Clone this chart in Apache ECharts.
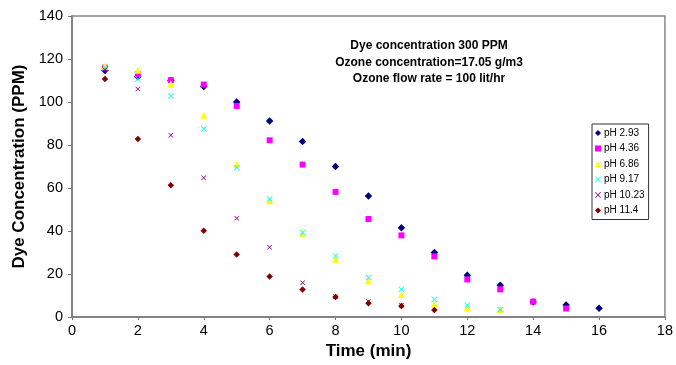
<!DOCTYPE html>
<html>
<head>
<meta charset="utf-8">
<script src="https://cdn.jsdelivr.net/npm/echarts@6/dist/echarts.min.js"></script>
<style>html,body{margin:0;padding:0;background:#fff}#c{width:676px;height:365px}</style>
</head>
<body>
<div id="c"></div>
<script>
const time = [1, 2, 3, 4, 5, 6, 7, 8, 9, 10, 11, 12, 13, 14, 15, 16];
const seriesNames = ['pH 2.93', 'pH 4.36', 'pH 6.86', 'pH 9.17', 'pH 10.23', 'pH 11.4'];
const ph293 = [114.7, 111.8, 110, 107.2, 100, 91.2, 81.6, 70, 56.3, 41.6, 30, 19.5, 14.8, 7, 5.6, 4.1];
const ph436 = [116, 112.9, 110.2, 108.1, 98.2, 82.2, 70.9, 58.2, 45.6, 38, 28.2, 17.5, 12.9, 7.2, 4];
const ph686 = [116.8, 114.8, 108.4, 93.8, 71, 54.1, 39, 26.9, 16.9, 10.5, 6.1, 4.4, 3.5];
const ph917 = [116, 110.7, 102.8, 87.5, 69.5, 54.9, 39.3, 28.4, 18.4, 12.9, 8.2, 5.5, 3.5];
const ph1023 = [115, 106.1, 84.6, 64.8, 46, 32.5, 16, 9.5, 7.3, 5.5];
const ph114 = [110.7, 82.8, 61.3, 40.1, 29.1, 18.9, 12.8, 9.3, 6.4, 5.2, 3.3];
const xTicks = [0, 2, 4, 6, 8, 10, 12, 14, 16, 18];
const yTicks = [0, 20, 40, 60, 80, 100, 120, 140];
const annotation = ['Dye concentration 300 PPM', 'Ozone concentration=17.05 g/m3', 'Ozone flow rate = 100 lit/hr'];

const allValues = [ph293, ph436, ph686, ph917, ph1023, ph114];
const colors = ['#000080', '#ff00ff', '#ffff00', '#00ffff', '#800080', '#800000'];
const X = 'path://M0,1L1,0L5,4L9,0L10,1L6,5L10,9L9,10L5,6L1,10L0,9L4,5Z';
const symbols = ['diamond', 'rect', 'triangle', X, X, 'diamond'];
const sizes = [7.5, 6, 7, 6, 5, 6.5];

const font = 'Liberation Sans, Arial, sans-serif';
const chart = echarts.init(document.getElementById('c'), null, {renderer: 'canvas'});
chart.setOption({
  animation: false,
  backgroundColor: '#fff',
  grid: {left: 72, right: 4, top: 16, bottom: 43, show: true, borderColor: '#888', borderWidth: 1.5},
  xAxis: {
    type: 'value', min: xTicks[0], max: xTicks[xTicks.length - 1], interval: 2,
    name: 'Time (min)', nameLocation: 'middle', nameGap: 25,
    nameTextStyle: {fontFamily: font, fontSize: 17, fontWeight: 'bold', color: '#000'},
    axisLine: {lineStyle: {color: '#777', width: 1.5}},
    axisTick: {length: 3, lineStyle: {color: '#777'}},
    axisLabel: {fontFamily: font, fontSize: 14.5, color: '#000', margin: 6},
    splitLine: {show: false}
  },
  yAxis: {
    type: 'value', min: yTicks[0], max: yTicks[yTicks.length - 1], interval: 20,
    name: 'Dye Concentration (PPM)', nameLocation: 'middle', nameGap: 44,
    nameTextStyle: {fontFamily: font, fontSize: 17, fontWeight: 'bold', color: '#000'},
    axisLine: {show: true, lineStyle: {color: '#777', width: 1.5}},
    axisTick: {show: true, length: 4, lineStyle: {color: '#777'}},
    axisLabel: {fontFamily: font, fontSize: 14.5, color: '#000', margin: 9},
    splitLine: {show: false}
  },
  legend: {
    orient: 'vertical', left: 592, top: 124,
    data: seriesNames,
    itemWidth: 6, itemHeight: 6, itemGap: 3.5,
    padding: [3, 4, 3, 3],
    borderColor: '#333', borderWidth: 1,
    textStyle: {fontFamily: font, fontSize: 10, color: '#000', lineHeight: 12, padding: [0, 0, 0, -2]}
  },
  graphic: annotation.map((t, i) => ({
    type: 'text',
    style: {text: t, x: 429, y: 46 + i * 16.5, textAlign: 'center', textVerticalAlign: 'middle',
      font: 'bold 12px ' + font, fill: '#000'}
  })),
  series: seriesNames.map((n, k) => ({
    name: n, type: 'scatter',
    symbol: symbols[k], symbolSize: sizes[k],
    itemStyle: {color: colors[k], opacity: 1},
    data: allValues[k].map((v, i) => [time[i], v])
  }))
});
</script>
</body>
</html>
